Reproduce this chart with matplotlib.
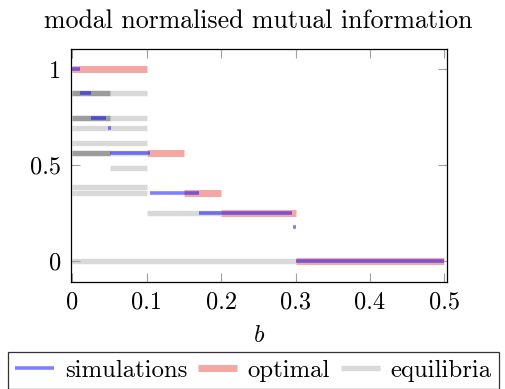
import matplotlib
matplotlib.use("Agg")
import matplotlib.pyplot as plt

# Segments as (b start, b end, value)
eq_start = [0.0, 0.0, 0.0, 0.0, 0.0, 0.0, 0.0, 0.0, 0.0, 0.0, 0.0, 0.05, 0.0, 0.0, 0.1, 0.0]
eq_end   = [0.1, 0.05, 0.05, 0.1, 0.05, 0.05, 0.1, 0.1, 0.1, 0.05, 0.05, 0.1, 0.1, 0.1, 0.2, 0.3]
eq_val   = [0.875, 0.875, 0.875, 0.745, 0.745, 0.745, 0.694, 0.615, 0.563, 0.563, 0.563,
            0.486, 0.387, 0.356, 0.248, 0.0]

opt_start = [0.0, 0.1, 0.15, 0.2, 0.3]
opt_end   = [0.1, 0.15, 0.2, 0.3, 0.5]
opt_val   = [1.0, 0.563, 0.356, 0.248, 0.0]

sim_start = [0.0, 0.01, 0.025, 0.048, 0.05, 0.105, 0.17, 0.296, 0.3]
sim_end   = [0.01, 0.025, 0.045, 0.052, 0.105, 0.17, 0.295, 0.3, 0.5]
sim_val   = [1.0, 0.875, 0.745, 0.694, 0.563, 0.356, 0.248, 0.179, 0.0]

plt.rcParams['font.family'] = ['cmr10', 'DejaVu Serif']
plt.rcParams['mathtext.fontset'] = 'cm'
plt.rcParams['axes.formatter.use_mathtext'] = True
plt.rcParams['font.size'] = 17.5

fig = plt.figure(figsize=(5.06, 3.89), dpi=100)
ax = fig.add_axes([0.1397, 0.2758, 0.7431, 0.5982])

ax.hlines(eq_val, eq_start, eq_end, colors='black', alpha=0.15, linewidth=3.9,
          capstyle='butt', label='equilibria', zorder=1)
ax.hlines(opt_val, opt_start, opt_end, colors='#f4a7a3', linewidth=5.0,
          capstyle='butt', label='optimal', zorder=2)
ax.hlines(sim_val, sim_start, sim_end, colors='blue', alpha=0.5, linewidth=2.6,
          capstyle='butt', label='simulations', zorder=3)

ax.set_xlim(-0.0022, 0.5032)
ax.set_ylim(-0.107, 1.104)
ax.set_xticks([0, 0.1, 0.2, 0.3, 0.4, 0.5])
ax.set_xticklabels(['0', '0.1', '0.2', '0.3', '0.4', '0.5'])
ax.set_yticks([0, 0.5, 1])
ax.set_yticklabels(['0', '0.5', '1'])
ax.tick_params(direction='in', length=6.5, width=0.8, color='#a0a0a0',
               top=True, right=True, pad=7)
for s in ax.spines.values():
    s.set_linewidth(0.9)

ax.set_xlabel('$b$', labelpad=8)
ax.set_title('modal normalised mutual information', pad=15, fontsize=18.6)

handles, labels = ax.get_legend_handles_labels()
order = [2, 1, 0]
leg = fig.legend([handles[i] for i in order], [labels[i] for i in order],
                 loc='upper left', bbox_to_anchor=(8 / 506, 1 - 352 / 389),
                 ncol=3, frameon=True, fancybox=False, edgecolor='black',
                 fontsize=17.8, handlelength=1.55, handletextpad=0.45,
                 columnspacing=0.45, borderpad=0.3, borderaxespad=0)
leg.get_frame().set_linewidth(0.9)

fig.savefig('out.png', dpi=100)
